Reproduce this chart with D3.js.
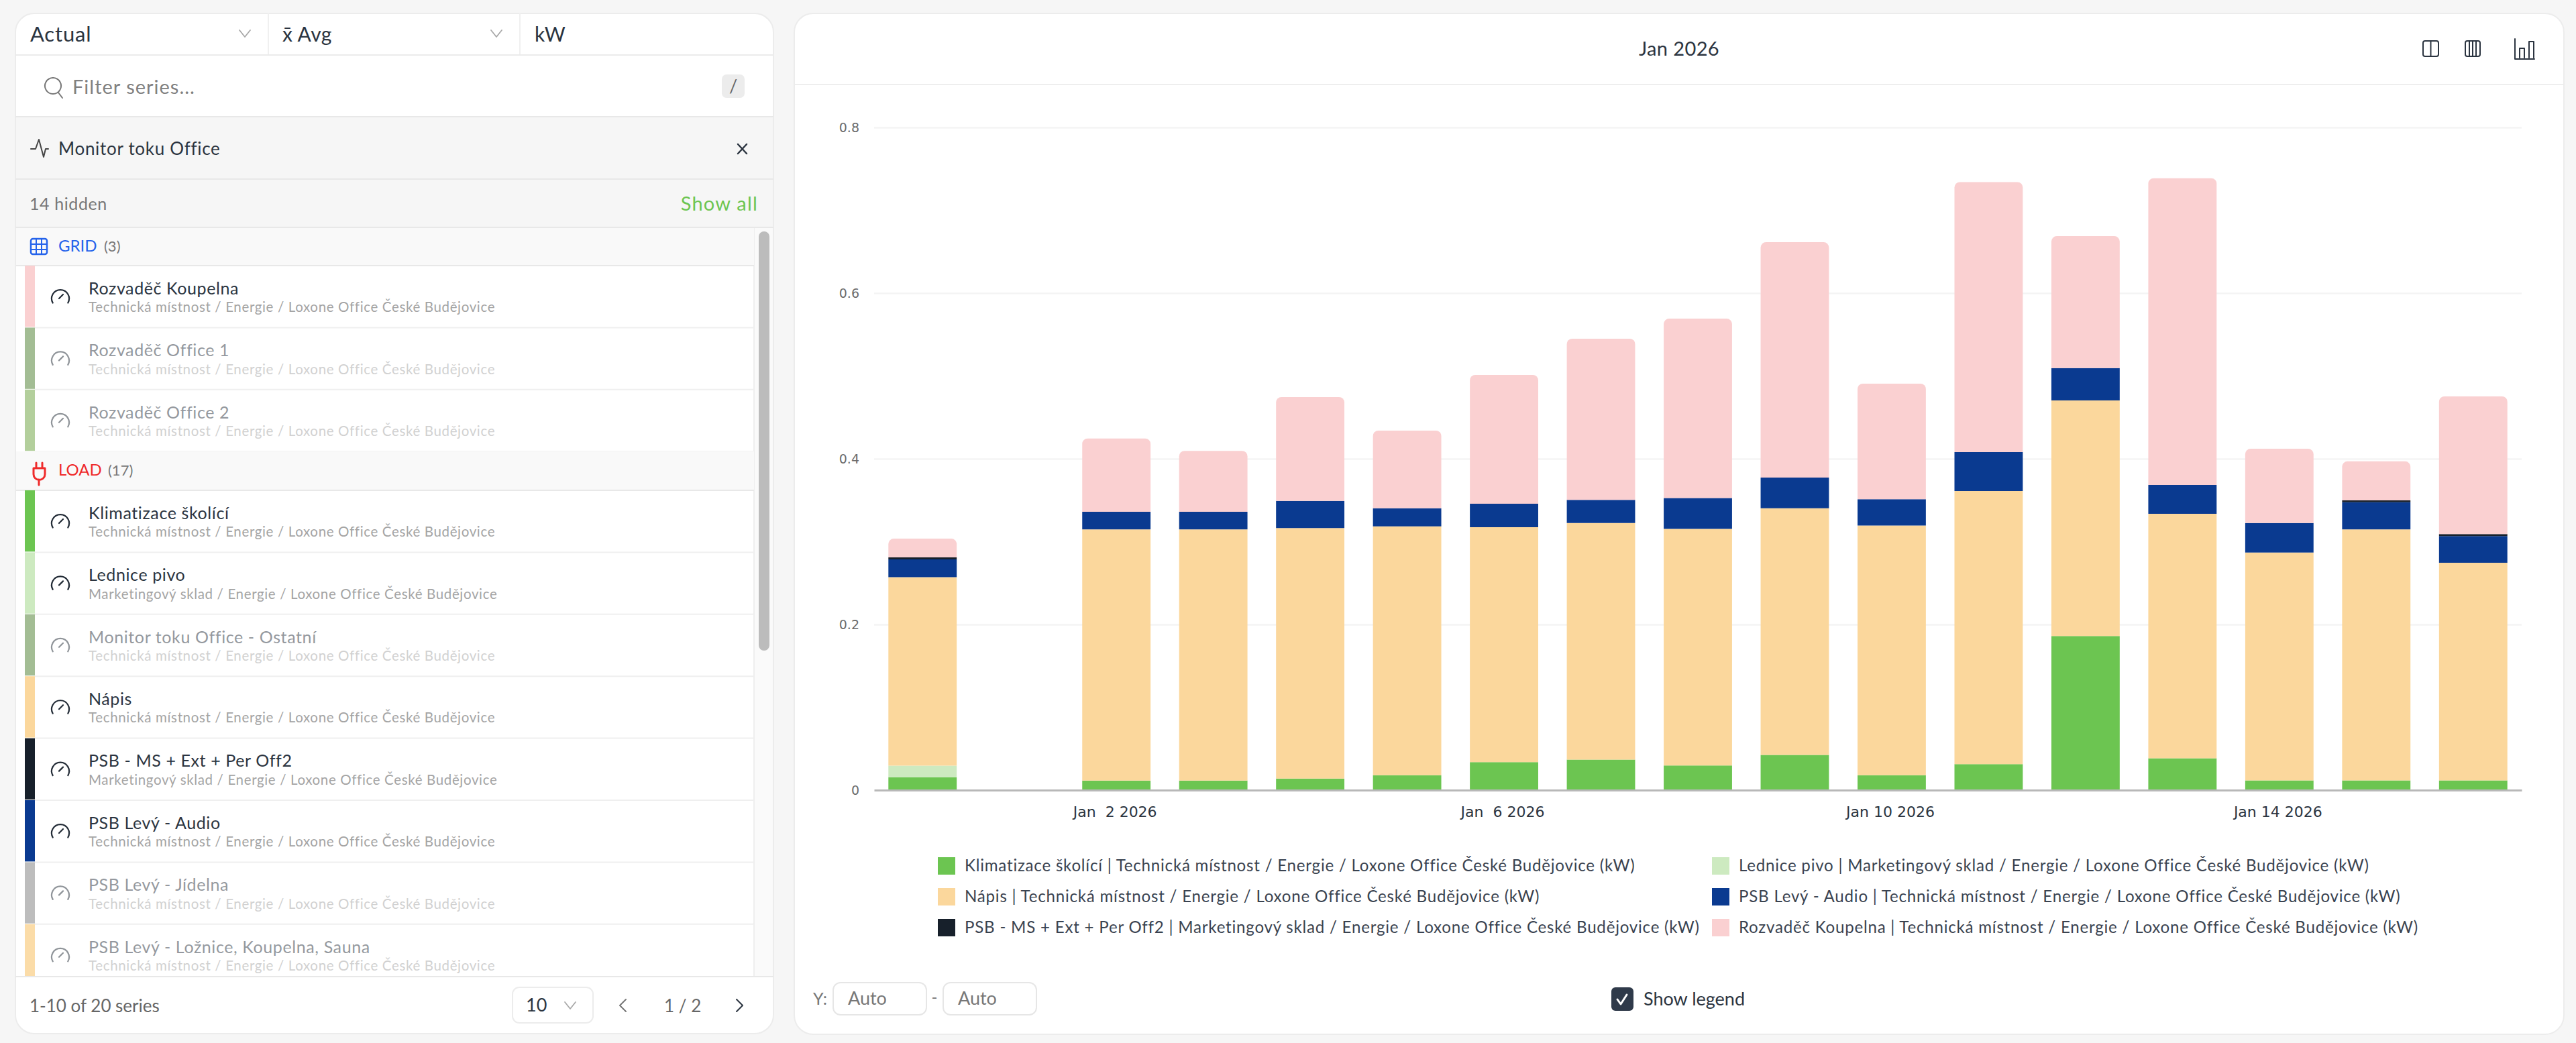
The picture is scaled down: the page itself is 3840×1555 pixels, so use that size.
<!DOCTYPE html>
<html>
<head>
<meta charset="utf-8">
<script src="https://cdn.jsdelivr.net/npm/d3@7"></script>
<style>
  html, body { margin: 0; padding: 0; background: #f6f6f6; }
  svg { display: block; }
  text { font-family: Lato, sans-serif; }
  .tick text { font-family: "DejaVu Sans", sans-serif; }
</style>
</head>
<body>
<svg id="page" width="3840" height="1555"></svg>
<script>
// days on the x axis
const days = ["Dec 31 2025", "Jan  1 2026", "Jan  2 2026", "Jan  3 2026", "Jan  4 2026", "Jan  5 2026", "Jan  6 2026", "Jan  7 2026", "Jan  8 2026", "Jan  9 2026", "Jan 10 2026", "Jan 11 2026", "Jan 12 2026", "Jan 13 2026", "Jan 14 2026", "Jan 15 2026", "Jan 16 2026"];
const xTickLabels = ["Jan  2 2026", "Jan  6 2026", "Jan 10 2026", "Jan 14 2026"];
const yTickValues = [0, 0.2, 0.4, 0.6, 0.8];

// series values in kW
const klimatizace = [0.0155, 0, 0.0115, 0.0115, 0.014, 0.018, 0.0338, 0.0369, 0.0298, 0.0425, 0.018, 0.0313, 0.186, 0.0384, 0.0118, 0.0118, 0.0118];
const lednice = [0.014, 0, 0, 0, 0, 0, 0, 0, 0, 0, 0, 0, 0, 0, 0, 0, 0];
const napis = [0.2276, 0, 0.3032, 0.3032, 0.3023, 0.3004, 0.2837, 0.2856, 0.2855, 0.2977, 0.3014, 0.3299, 0.2844, 0.2952, 0.275, 0.3029, 0.2626];
const audio = [0.0214, 0, 0.0214, 0.0214, 0.0328, 0.0218, 0.0282, 0.0279, 0.0373, 0.0372, 0.0319, 0.0468, 0.0392, 0.0348, 0.0357, 0.0329, 0.0323];
const psbMs = [0.0025, 0, 0, 0, 0, 0, 0, 0, 0, 0, 0, 0, 0, 0, 0, 0.0022, 0.0024];
const rozvadec = [0.0226, 0, 0.0884, 0.0735, 0.1254, 0.0939, 0.1555, 0.1946, 0.2166, 0.2841, 0.1394, 0.3261, 0.1592, 0.3703, 0.0896, 0.0471, 0.1662];

const seriesKeys = ["klimatizace", "lednice", "napis", "audio", "psbMs", "rozvadec"];
const seriesValues = [klimatizace, lednice, napis, audio, psbMs, rozvadec];
const seriesColors = ["#6cc551", "#cdeac0", "#fbd79c", "#0a3a90", "#17202b", "#fad0d1"];
const legendLabels = [
  "Klimatizace školící | Technická místnost / Energie / Loxone Office České Budějovice (kW)",
  "Lednice pivo | Marketingový sklad / Energie / Loxone Office České Budějovice (kW)",
  "Nápis | Technická místnost / Energie / Loxone Office České Budějovice (kW)",
  "PSB Levý - Audio | Technická místnost / Energie / Loxone Office České Budějovice (kW)",
  "PSB - MS + Ext + Per Off2 | Marketingový sklad / Energie / Loxone Office České Budějovice (kW)",
  "Rozvaděč Koupelna | Technická místnost / Energie / Loxone Office České Budějovice (kW)"
];

// sidebar list
const PATH_TECH = "Technická místnost / Energie / Loxone Office České Budějovice";
const PATH_SKLAD = "Marketingový sklad / Energie / Loxone Office České Budějovice";
const gridNames = ["Rozvaděč Koupelna", "Rozvaděč Office 1", "Rozvaděč Office 2"];
const gridPaths = [PATH_TECH, PATH_TECH, PATH_TECH];
const gridColors = ["#fad0d1", "#a3bd94", "#b3cf9c"];
const gridHidden = [false, true, true];
const loadNames = ["Klimatizace školící", "Lednice pivo", "Monitor toku Office - Ostatní", "Nápis", "PSB - MS + Ext + Per Off2", "PSB Levý - Audio", "PSB Levý - Jídelna", "PSB Levý - Ložnice, Koupelna, Sauna"];
const loadPaths = [PATH_TECH, PATH_SKLAD, PATH_TECH, PATH_TECH, PATH_SKLAD, PATH_TECH, PATH_TECH, PATH_TECH];
const loadColors = ["#6cc551", "#cdeac0", "#a3bd94", "#fbd79c", "#17202b", "#0a3a90", "#bdbdbd", "#fbdca8"];
const loadHidden = [false, false, true, false, false, false, true, true];

const INK = "#2b3440";
const svg = d3.select("#page");

function label(g, x, y, str, size, fill, anchor, spacing) {
  return g.append("text").attr("x", x).attr("y", y).attr("dy", "0.35em")
    .attr("font-size", size).attr("fill", fill).attr("text-anchor", anchor || "start")
    .attr("letter-spacing", spacing || 0).text(str);
}
function line(g, x1, y1, x2, y2, stroke, w) {
  return g.append("line").attr("x1", x1).attr("y1", y1).attr("x2", x2).attr("y2", y2)
    .attr("stroke", stroke).attr("stroke-width", w || 2);
}
function stroked(g, d, stroke, w) {
  return g.append("path").attr("d", d).attr("fill", "none").attr("stroke", stroke)
    .attr("stroke-width", w || 2).attr("stroke-linecap", "round").attr("stroke-linejoin", "round");
}
function chevron(g, x, y, stroke) {
  stroked(g, `M${x - 8} ${y - 5}L${x} ${y + 5}L${x + 8} ${y - 5}`, stroke || "#a8a8a8", 1.8);
}
function panel(x, y, w, h) {
  svg.append("rect").attr("x", x).attr("y", y).attr("width", w).attr("height", h).attr("rx", 28)
    .attr("fill", "#fff").attr("stroke", "#ececec").attr("stroke-width", 2);
}

// ---- left panel ----
panel(23, 20, 1130, 1521);
const side = svg.append("g");
label(side, 45, 51, "Actual", 31, INK, "start", 0.8);
chevron(side, 365, 50);
label(side, 421, 51, "x̄ Avg", 30, INK, "start", 0.5);
chevron(side, 740, 50);
label(side, 797, 51, "kW", 30, INK);
line(side, 400, 20, 400, 82, "#f0f0f0");
line(side, 775, 20, 775, 82, "#f0f0f0");
line(side, 23, 82, 1153, 82, "#ebebeb");

// filter row
stroked(side, "M79 116a12 12 0 1 0 0.01 0M87 138l6 8", "#777", 2);
label(side, 108, 130, "Filter series...", 29, "#808080", "start", 1);
side.append("rect").attr("x", 1076).attr("y", 111).attr("width", 34).attr("height", 35).attr("rx", 7).attr("fill", "#ececec");
label(side, 1093, 129, "/", 27, "#666", "middle");

// selected monitor row and hidden count
side.append("rect").attr("x", 24).attr("y", 174).attr("width", 1128).attr("height", 165).attr("fill", "#f6f6f6");
line(side, 23, 174, 1153, 174, "#e8e8e8");
line(side, 23, 267, 1153, 267, "#e8e8e8");
line(side, 23, 339, 1153, 339, "#e8e8e8");
stroked(side, "M46 222h7l5-14 7 26 3-12h4", "#444", 2);
label(side, 87, 222, "Monitor toku Office", 26, INK, "start", 0.7);
stroked(side, "M1100 215l13 14M1113 215l-13 14", INK, 2.5);
label(side, 44, 304, "14 hidden", 25, "#777", "start", 0.6);
label(side, 1130, 304, "Show all", 29, "#6cc551", "end", 1.2);

// list
const rowH = 92.4;
const list = side.append("g");
list.append("rect").attr("x", 1124).attr("y", 340).attr("width", 28).attr("height", 1116).attr("fill", "#fafafa");
line(list, 1124, 340, 1124, 1456, "#eeeeee");
line(list, 23, 1456, 1153, 1456, "#e8e8e8");

function groupHeader(y, h, name, count, fill) {
  list.append("rect").attr("x", 24).attr("y", y).attr("width", 1100).attr("height", h).attr("fill", "#f9f9f9");
  line(list, 24, y + h, 1124, y + h, "#e8e8e8");
  label(list, 87, y + h / 2 - 1, name, 24, fill);
  label(list, 87 + (name === "GRID" ? 68 : 74), y + h / 2 - 1, count, 22, "#777");
}
function rows(y0, names, paths, colors, hidden) {
  names.forEach((name, i) => {
    const y = y0 + i * rowH;
    const h = Math.min(rowH, 1456 - y);
    const off = hidden[i];
    const g = list.append("g");
    g.append("rect").attr("x", 37).attr("y", y).attr("width", 15).attr("height", h - 1).attr("fill", colors[i]);
    if (y + rowH < 1456) line(g, 52, y + rowH, 1124, y + rowH, "#efefef");
    const c = g.append("g").attr("opacity", off ? 0.5 : 1);
    const cy = y + 49;
    stroked(c, `M78.7 ${cy + 6.5}A13 13 0 1 1 101.3 ${cy + 6.5}M88 ${cy}L94 ${cy - 6}`, "#222b36", 2.2);
    label(c, 132, y + 34, name, 25, INK, "start", 0.6);
    label(c, 132, y + 62, paths[i], 20.5, "#a4a4a4", "start", 0.64);
  });
}

groupHeader(340, 56, "GRID", "(3)", "#2563eb");
side.append("rect").attr("x", 46).attr("y", 356).attr("width", 24).attr("height", 23).attr("rx", 3).attr("fill", "none").attr("stroke", "#2563eb").attr("stroke-width", 2.5);
stroked(side, "M46 364h24M46 372h24M54 356v23M62 356v23", "#2563eb", 2);
rows(396, gridNames, gridPaths, gridColors, gridHidden);

groupHeader(673, 58, "LOAD", "(17)", "#ef2b2b");
stroked(side, "M54 690v8M63 690v8M50 698h17v9a8 8 0 0 1-17 0zM58 715v8", "#ef2b2b", 3);
rows(731, loadNames, loadPaths, loadColors, loadHidden);

// scrollbar
list.append("rect").attr("x", 1131).attr("y", 345).attr("width", 16).attr("height", 625).attr("rx", 8).attr("fill", "#bcbcbc");

// footer
label(side, 44, 1500, "1-10 of 20 series", 26, "#666");
side.append("rect").attr("x", 764).attr("y", 1472).attr("width", 120).attr("height", 53).attr("rx", 10).attr("fill", "#fff").attr("stroke", "#ececec").attr("stroke-width", 2);
label(side, 784, 1499, "10", 27, INK);
chevron(side, 850, 1499);
stroked(side, "M933 1490l-9 9 9 9", "#777", 2);
label(side, 990, 1500, "1 / 2", 26, "#666");
stroked(side, "M1098 1490l9 9-9 9", INK, 2);

// ---- right panel ----
panel(1184, 20, 2638, 1522);
const head = svg.append("g");
line(head, 1185, 126, 3821, 126, "#eeeeee");
label(head, 2503, 73, "Jan 2026", 29, INK, "middle", 0.4);
head.append("rect").attr("x", 3612).attr("y", 61).attr("width", 23).attr("height", 23).attr("rx", 3).attr("fill", "none").attr("stroke", INK).attr("stroke-width", 2);
line(head, 3623.5, 61, 3623.5, 84, INK);
head.append("rect").attr("x", 3675).attr("y", 61).attr("width", 22).attr("height", 23).attr("rx", 3).attr("fill", "none").attr("stroke", INK).attr("stroke-width", 2);
stroked(head, "M3681 61v23M3686 61v23M3691 61v23", INK, 2);
stroked(head, "M3749 58v30h29M3756 86v-14h7v14M3770 86v-24h7v24", INK, 2);

// ---- chart ----
const x = d3.scaleBand().domain(days).range([1303, 3759]).paddingInner(0.295).paddingOuter(0.1475);
const y = d3.scaleLinear().domain([0, 0.8]).range([1178, 190]);
const color = d3.scaleOrdinal().domain(seriesKeys).range(seriesColors);

const table = days.map((d, i) => {
  const row = { day: d };
  seriesKeys.forEach((k, j) => { row[k] = seriesValues[j][i]; });
  return row;
});
const stacked = d3.stack().keys(seriesKeys)(table);

const yAxis = d3.axisLeft(y).tickValues(yTickValues).tickFormat(d3.format("~g")).tickSize(0).tickPadding(22);
const yG = svg.append("g").attr("transform", "translate(1303,0)").call(yAxis);
yG.select(".domain").remove();
yG.selectAll(".tick text").attr("font-size", 19).attr("fill", "#6b6b6b");
yG.selectAll(".tick").filter(d => d > 0).append("line")
  .attr("x1", 0).attr("x2", 2456).attr("stroke", "#f4f4f4").attr("stroke-width", 2.5);

function barPath(d, isTop) {
  const x0 = x(d.data.day), w = x.bandwidth();
  const yTop = y(d[1]), yBot = y(d[0]);
  const r = isTop ? Math.min(8, yBot - yTop) : 0;
  const p = d3.path();
  p.moveTo(x0, yBot);
  p.lineTo(x0, yTop + r);
  if (r) p.arcTo(x0, yTop, x0 + r, yTop, r);
  p.lineTo(x0 + w - r, yTop);
  if (r) p.arcTo(x0 + w, yTop, x0 + w, yTop + r, r);
  p.lineTo(x0 + w, yBot);
  p.closePath();
  return p.toString();
}

svg.append("g").selectAll("g").data(stacked).join("g")
  .attr("fill", s => color(s.key))
  .selectAll("path").data(s => s.map(d => ({ d, top: s.key === "rozvadec" })))
  .join("path")
  .filter(o => o.d[1] > o.d[0])
  .attr("d", o => barPath(o.d, o.top));

const xAxis = d3.axisBottom(x).tickValues(xTickLabels).tickSize(0).tickPadding(24);
const xG = svg.append("g").attr("transform", "translate(0,1178)").call(xAxis);
xG.select(".domain").attr("stroke", "#b8b8b8").attr("stroke-width", 3);
xG.selectAll(".tick text").attr("font-size", 22).attr("fill", "#2b3440").attr("dx", -2).style("white-space", "pre");

// ---- legend ----
const legendCols = d3.scaleOrdinal().domain([0, 1]).range([1398, 2552]);
const legendRows = d3.scalePoint().domain([0, 1, 2]).range([1291, 1383]);
const legend = svg.append("g").selectAll("g").data(legendLabels).join("g")
  .attr("transform", (d, i) => `translate(${legendCols(i % 2)},${legendRows(Math.floor(i / 2))})`);
legend.append("rect").attr("y", -13).attr("width", 26).attr("height", 26).attr("fill", (d, i) => seriesColors[i]);
legend.append("text").attr("x", 40).attr("dy", "0.35em").attr("font-size", 24.1).attr("letter-spacing", 0.78)
  .attr("fill", "#3a4350").text(d => d);

// ---- bottom controls ----
const foot = svg.append("g");
label(foot, 1212, 1489, "Y:", 25, "#777");
[1242, 1406].forEach(ix => {
  foot.append("rect").attr("x", ix).attr("y", 1465).attr("width", 139).attr("height", 48).attr("rx", 11)
    .attr("fill", "#fff").attr("stroke", "#e6e6e6").attr("stroke-width", 2);
  label(foot, ix + 22, 1489, "Auto", 27, "#777");
});
label(foot, 1393, 1487, "-", 24, "#777", "middle");
foot.append("rect").attr("x", 2402).attr("y", 1472).attr("width", 33).attr("height", 35).attr("rx", 6).attr("fill", "#2f3a4a");
stroked(foot, "M2411 1490l5 7 9-14", "#fff", 3);
label(foot, 2450, 1490, "Show legend", 27, INK);
</script>
</body>
</html>
